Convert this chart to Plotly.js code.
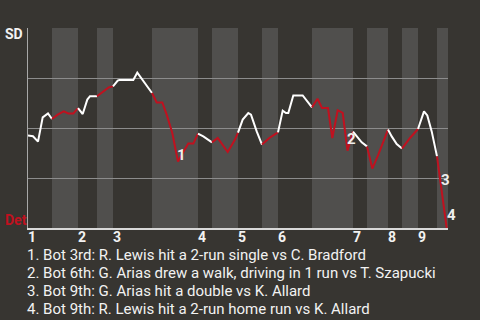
<!DOCTYPE html>
<html><head><meta charset="utf-8">
<script src="https://cdn.plot.ly/plotly-3.0.1.min.js"></script>
<style>html,body{margin:0;padding:0;background:#373531;}#chart{width:480px;height:320px;}</style>
</head><body><div id="chart"></div>
<script>
// Game progress position (x) and San Diego win probability (%) after each play
const playX = [0,5,10,14.7,20,24,29.7,35.7,40.3,45.3,50,54.7,59.3,62,69,74.7,80.7,85,89.7,91.3,105.3,109.3,124,128.7,134.3,138.7,144.3,150,155.3,160.3,165.3,170,175.3,184,189.7,199.7,207,210,214.7,220.3,223,228.7,234,241.3,250,254.7,258,260.3,265.3,274.7,284,289.5,294,300,304.3,309.7,314.7,319.5,325,328.7,333.7,339,344.3,350.3,360,363.7,368.7,374,382,390,392,396,399.3,403.7,409,412,415.3,418.7];
const sdWinPct = [46.2,45.9,43.2,55.3,57.3,54.5,56.7,58.3,57.3,57.3,59.9,57.0,64.2,65.9,65.9,68.0,70.3,70.8,73.7,74.0,74.0,77.7,67.5,62.8,62.8,56.7,47.5,33.2,38.0,42.2,42.2,47.2,45.8,42.8,45.0,38.0,44.2,47.7,54.2,57.5,56.7,48.3,41.7,45.0,47.8,58.7,57.5,57.5,66.3,66.3,60.3,64.6,60.0,60.0,45.0,58.9,57.5,38.7,48.2,45.8,42.8,40.8,29.7,36.7,49.2,45.8,42.0,39.7,45.0,49.5,52.5,58.3,56.3,48.3,35.8,24.2,13.3,0];
// Half-inning boundaries (top 1st start ... bottom 9th end)
const halfBounds = [0,24,50,69,85,124,170,184,210,234,250,284,325,339,360,374,390,409,420];
const inningLabels = ['1','2','3','4','5','6','7','8','9'];
const awayTeam = 'SD';
const homeTeam = 'Det';
const eventLabels = ['1','2','3','4'];
const eventPlayIdx = [27,57,75,77];
const eventTexts = [
  '1. Bot 3rd: R. Lewis hit a 2-run single vs C. Bradford',
  '2. Bot 6th: G. Arias drew a walk, driving in 1 run vs T. Szapucki',
  '3. Bot 9th: G. Arias hit a double vs K. Allard',
  '4. Bot 9th: R. Lewis hit a 2-run home run vs K. Allard'
];

const BG = '#373531', BAND = '#504f4d', RED = '#c0111f', WHITE = '#ffffff';
const FONT = 'Roboto, "Noto Sans", sans-serif';

const traces = [];
for (let h = 0; h < halfBounds.length - 1; h++) {
  const s = halfBounds[h], e = halfBounds[h + 1];
  const idx = [];
  playX.forEach((x, i) => { if ((x > s || (h === 0 && x === s)) && x <= e) idx.push(i); });
  if (!idx.length) continue;
  if (idx[0] > 0) idx.unshift(idx[0] - 1);
  traces.push({
    type: 'scatter', mode: 'lines',
    x: idx.map(i => playX[i]), y: idx.map(i => sdWinPct[i]),
    line: { color: h % 2 === 0 ? WHITE : RED, width: 2 },
    hoverinfo: 'skip', showlegend: false
  });
}

const shapes = [];
for (let h = 0; h < halfBounds.length - 1; h++) {
  if (h % 2 === 1) shapes.push({ type: 'rect', xref: 'x', yref: 'paper', x0: halfBounds[h], x1: halfBounds[h + 1], y0: 0, y1: 1, fillcolor: BAND, line: { width: 0 }, layer: 'below' });
}

const annotations = [];
annotations.push({ text: awayTeam, xref: 'paper', yref: 'paper', x: 0, y: 1, xanchor: 'left', yanchor: 'middle', xshift: -25, yshift: -6, showarrow: false, font: { family: FONT, size: 14, color: '#f2f2f2', weight: 'bold' } });
annotations.push({ text: homeTeam, xref: 'paper', yref: 'paper', x: 0, y: 0, xanchor: 'left', yanchor: 'middle', xshift: -25, yshift: 8, showarrow: false, font: { family: FONT, size: 14, color: RED, weight: 'bold' } });
const evShift = [[-3, 7], [-3, 12], [-1, 0], [-2, 13]];
eventPlayIdx.forEach((pi, k) => {
  annotations.push({ text: eventLabels[k], x: playX[pi], y: sdWinPct[pi], xanchor: 'left', yanchor: 'middle', xshift: evShift[k][0], yshift: evShift[k][1], showarrow: false, font: { family: FONT, size: 15, color: '#eeeeee', weight: 'bold' } });
});
inningLabels.forEach((t, k) => {
  annotations.push({ text: t, x: halfBounds[2 * k], xref: 'x', yref: 'paper', y: 0, xanchor: 'left', yanchor: 'middle', xshift: -2, yshift: -8.5, showarrow: false, font: { family: FONT, size: 14, color: '#f2f2f2', weight: 'bold' } });
});
eventTexts.forEach((t, k) => {
  annotations.push({ text: t, xref: 'paper', yref: 'paper', x: 0, y: 0, xanchor: 'left', yanchor: 'middle', xshift: -3, yshift: -27 - 18 * k, showarrow: false, font: { family: FONT, size: 15, color: '#f2f2f2' } });
});

const layout = {
  width: 480, height: 320,
  margin: { l: 28, r: 32, t: 28, b: 92 },
  paper_bgcolor: BG, plot_bgcolor: BG,
  xaxis: {
    range: [0, 420], showgrid: false, zeroline: false,
    showline: true, linecolor: '#d8d8d8', linewidth: 2,
    showticklabels: false, ticks: '', fixedrange: true
  },
  yaxis: {
    range: [0, 100], tickmode: 'array', tickvals: [25, 50, 75, 100], showticklabels: false,
    showgrid: true, gridcolor: '#8c8c8c', gridwidth: 1, zeroline: false,
    showline: true, linecolor: '#a8a8a8', linewidth: 1, ticks: '', fixedrange: true
  },
  shapes: shapes,
  annotations: annotations,
  showlegend: false
};

Plotly.newPlot('chart', traces, layout, { staticPlot: true, displayModeBar: false });
</script>
</body></html>
